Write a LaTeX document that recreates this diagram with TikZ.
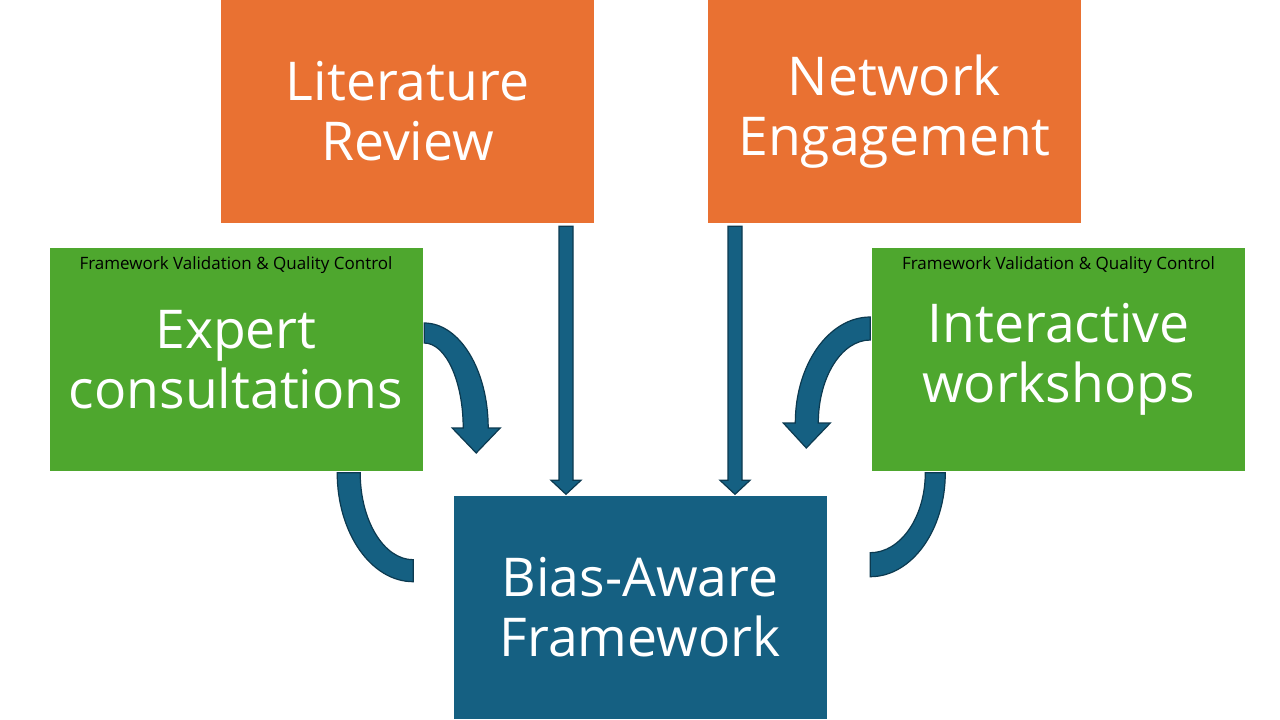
\documentclass[tikz,border=0pt]{standalone}
\usepackage{fontspec}
\setmainfont{Open Sans}
\usetikzlibrary{positioning, calc}

\definecolor{boxorange}{HTML}{E97132}
\definecolor{boxgreen}{HTML}{4EA72E}
\definecolor{boxblue}{HTML}{156082}
\definecolor{arrowline}{HTML}{0C3A50}

\tikzset{
  box/.style={minimum width=373pt, minimum height=223pt, inner sep=0pt, text=white, align=center, font=\fontsize{53.5}{60}\selectfont},
  source/.style={box, fill=boxorange},
  check/.style={box, fill=boxgreen},
  result/.style={box, fill=boxblue},
  tag/.style={font=\fontsize{17}{20}\selectfont, text=black, inner sep=0pt, anchor=north},
  blockarrow/.style={fill=boxblue, draw=arrowline, line width=1.2pt, line join=miter}
}

\begin{document}
\begin{tikzpicture}[x=1pt, y=-1pt, on grid]
    \useasboundingbox[fill=white] (0,0) rectangle (1280,720);

    % Les cases (y vers le bas : below = vers le haut de la page)
    \node[result] (bias) at (640,607) {Bias-Aware\\Framework};
    \node[source, below left=495.5 and 232.5 of bias] (lit) {Literature\\Review};
    \node[source, below right=495.5 and 254.5 of bias] (net) {Network\\Engagement};
    \node[check, below left=247.5 and 404 of bias] (exp) {Expert\\consultations};
    \node[check, below right=247.5 and 418.5 of bias] (int) {Interactive\\workshops};
    \node[tag] (exptag) at ($(exp.north)+(0,9)$) {Framework Validation \& Quality Control};
    \node[tag] (inttag) at ($(int.north)+(0,9)$) {Framework Validation \& Quality Control};

    % Flèches droites
    \coordinate (litout) at ($(lit.south)+(158.5,3)$);
    \coordinate (litin) at ($(litout |- bias.north)+(0,-1)$);
    \coordinate (netout) at ($(net.south)+(-159.5,3)$);
    \coordinate (netin) at ($(netout |- bias.north)+(0,-1)$);
    \path[blockarrow] ($(litout)+(-7,0)$) -- ($(litin)+(-7,-14)$) -- ++(-8,0) -- (litin)
        -- ++(15,-14) -- ++(-8,0) -- ($(litout)+(7,0)$) -- cycle;
    \path[blockarrow] ($(netout)+(-7,0)$) -- ($(netin)+(-7,-14)$) -- ++(-8,0) -- (netin)
        -- ++(15,-14) -- ++(-8,0) -- ($(netout)+(7,0)$) -- cycle;

    % Flèches courbes
    \coordinate (expc) at ($(exp.east)+(1.5,68.5)$);
    \coordinate (expd) at ($(exp.south east)+(-9.5,1.5)$);
    \coordinate (intc) at ($(int.west)+(-1.5,63.5)$);
    \coordinate (intd) at ($(int.south west)+(-1.5,1.5)$);
    \path[blockarrow] ($(expc)+(0,-105)$) arc[start angle=-90, end angle=0, x radius=64, y radius=105]
        -- ++(12,0) -- ++(-24,25) -- ++(-24,-25) -- ++(11,0)
        arc[start angle=0, end angle=-90, x radius=39, y radius=85] -- cycle;
    \path[blockarrow] ($(expd)+(-76,0)$) arc[start angle=180, end angle=90, x radius=76, y radius=109]
        -- ++(0,-22) arc[start angle=90, end angle=180, x radius=53, y radius=87] -- cycle;
    \path[blockarrow] ($(intc)+(0,-106)$) arc[start angle=-90, end angle=-180, x radius=75, y radius=106]
        -- ++(-12,0) -- ++(23,25) -- ++(24,-25) -- ++(-12,0)
        arc[start angle=-180, end angle=-90, x radius=52, y radius=83] -- cycle;
    \path[blockarrow] ($(intd)+(75,0)$) arc[start angle=0, end angle=90, x radius=75, y radius=104]
        -- ++(0,-24) arc[start angle=90, end angle=0, x radius=55, y radius=80] -- cycle;

\end{tikzpicture}
\end{document}
